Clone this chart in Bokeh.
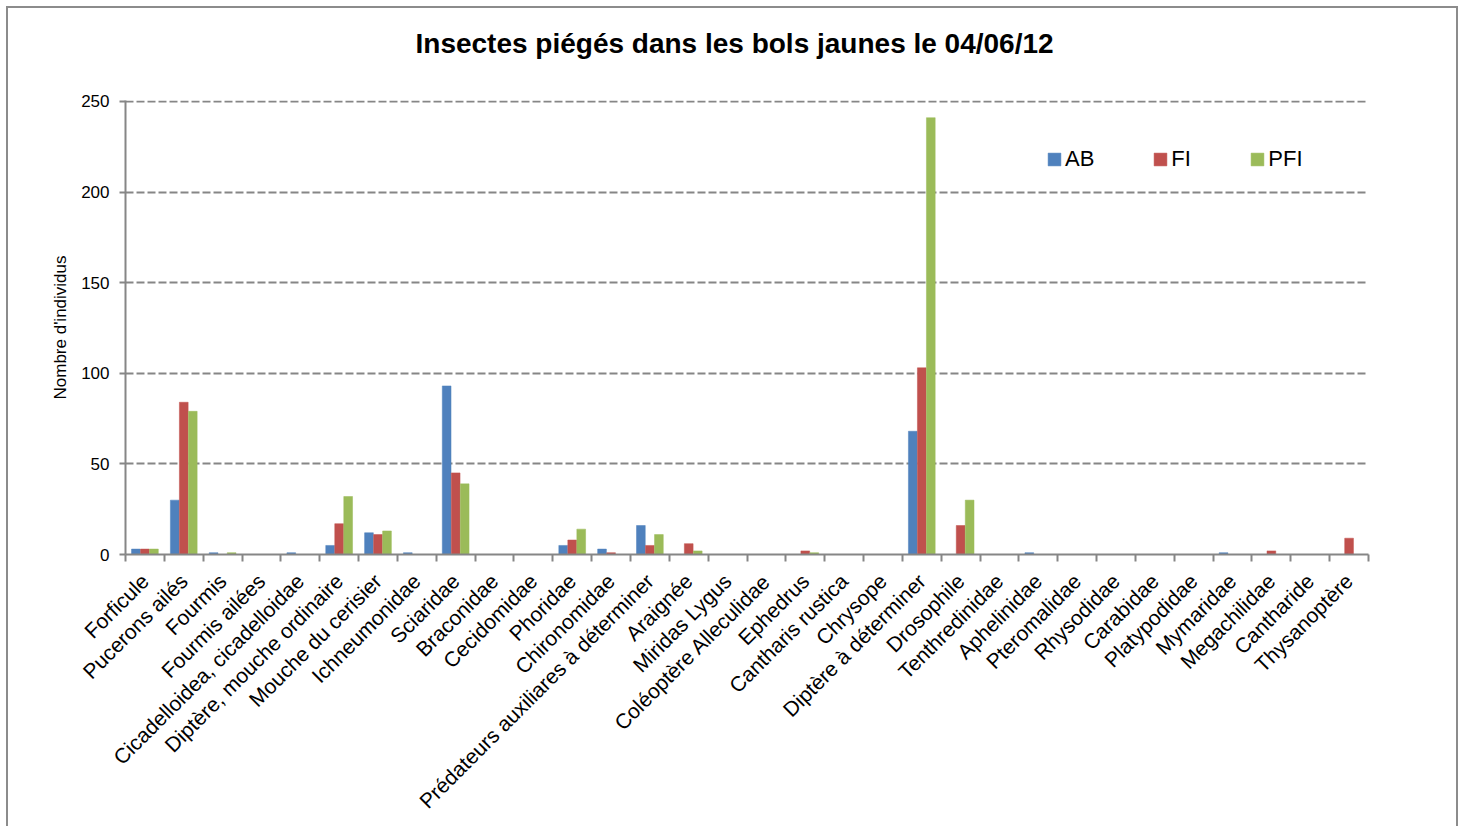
import math
from bokeh.plotting import figure
from bokeh.models import (Range1d, LinearAxis, FixedTicker, CustomJSTickFormatter,
                          Legend, LegendItem, ColumnDataSource, Grid, Title)
from bokeh.transform import dodge
from bokeh.embed import file_html
from bokeh.resources import INLINE

categories = ["Forficule", "Pucerons ailés", "Fourmis", "Fourmis ailées",
              "Cicadelloidea, cicadelloidae", "Diptère, mouche ordinaire",
              "Mouche du cerisier", "Ichneumonidae", "Sciaridae", "Braconidae",
              "Cecidomidae", "Phoridae", "Chironomidae",
              "Prédateurs auxiliares à déterminer", "Araignée", "Miridas Lygus",
              "Coléoptère Alleculidae", "Ephedrus", "Cantharis rustica", "Chrysope",
              "Diptère à déterminer", "Drosophile", "Tenthredinidae", "Aphelinidae",
              "Pteromalidae", "Rhysodidae", "Carabidae", "Platypodidae", "Mymaridae",
              "Megachilidae", "Cantharide", "Thysanoptère"]
AB = [3, 30, 1, 0, 1, 5, 12, 1, 93, 0, 0, 5, 3, 16, 0, 0, 0, 0, 0, 0,
      68, 0, 0, 1, 0, 0, 0, 0, 1, 0, 0, 0]
FI = [3, 84, 0, 0, 0, 17, 11, 0, 45, 0, 0, 8, 1, 5, 6, 0, 0, 2, 0, 0,
      103, 16, 0, 0, 0, 0, 0, 0, 0, 2, 0, 9]
PFI = [3, 79, 1, 0, 0, 32, 13, 0, 39, 0, 0, 14, 0, 11, 2, 0, 0, 1, 0, 0,
       241, 30, 0, 0, 0, 0, 0, 0, 0, 0, 0, 0]
series_names = ["AB", "FI", "PFI"]
series_colors = ["#4F81BD", "#C0504D", "#9BBB59"]
y_ticks = [0, 50, 100, 150, 200, 250]
title_text = "Insectes piégés dans les bols jaunes le 04/06/12"
y_label = "Nombre d'individus"

n = len(categories)
source = ColumnDataSource(dict(pos=[i + 0.5 for i in range(n)], AB=AB, FI=FI, PFI=PFI))

FONT = "Liberation Sans"
GRAY = "#868686"

# canvas starts at page (8, 8) because of the margin + border below
p = figure(width=1452, height=820, x_range=Range1d(0, n), y_range=Range1d(0, 250.5),
           output_backend="svg", toolbar_location=None,
           x_axis_location=None, y_axis_location=None,
           min_border_left=117, min_border_right=92, min_border_top=92,
           min_border_bottom=274)
p.center = [r for r in p.center if not isinstance(r, Grid)]
p.outline_line_color = None
p.background_fill_color = "white"
p.border_fill_color = "white"
p.styles = {"border": "2px solid #8c8c8c", "border-bottom": "none",
            "margin": "6px 0 0 6px"}

# main title (outermost panel)
p.title.text = title_text
p.title.align = "left"
p.title.offset = 290
p.title.standoff = 0
p.title.text_font = FONT
p.title.text_font_size = "28px"
p.title.text_font_style = "bold"
p.title.text_color = "black"

# small spacer panel between the frame and the title
spacer = Title(text=" ", text_font_size="1px", standoff=39)
p.add_layout(spacer, "above")

# y axis
yaxis = LinearAxis(ticker=FixedTicker(ticks=y_ticks, minor_ticks=[]))
yaxis.axis_line_color = GRAY
yaxis.axis_line_width = 2
yaxis.major_tick_line_color = GRAY
yaxis.major_tick_line_width = 2
yaxis.major_tick_in = 0
yaxis.major_tick_out = 6
yaxis.minor_tick_line_color = None
yaxis.major_label_text_font = FONT
yaxis.major_label_text_font_size = "17px"
yaxis.major_label_text_color = "black"
yaxis.major_label_standoff = 10
yaxis.axis_label = y_label
yaxis.axis_label_text_font = FONT
yaxis.axis_label_text_font_size = "17px"
yaxis.axis_label_text_font_style = "normal"
yaxis.axis_label_text_color = "black"
yaxis.axis_label_standoff = 8
p.add_layout(yaxis, "left")

# x axis: labels at category centres, ticks at boundaries
xaxis = LinearAxis(ticker=FixedTicker(ticks=[i + 0.5 for i in range(n)],
                                      minor_ticks=list(range(n + 1))))
xaxis.formatter = CustomJSTickFormatter(args=dict(names=categories),
                                        code="return names[Math.floor(tick)];")
xaxis.axis_line_color = GRAY
xaxis.axis_line_width = 2
xaxis.major_tick_line_color = None
xaxis.minor_tick_line_color = GRAY
xaxis.minor_tick_line_width = 2
xaxis.minor_tick_in = 0
xaxis.minor_tick_out = 7
xaxis.major_tick_in = 0
xaxis.major_tick_out = 0
xaxis.major_label_orientation = math.pi / 4
xaxis.major_label_text_font = FONT
xaxis.major_label_text_font_size = "21px"
xaxis.major_label_text_color = "black"
xaxis.major_label_standoff = 16
p.add_layout(xaxis, "below")

grid = Grid(dimension=1, ticker=yaxis.ticker)
grid.grid_line_color = GRAY
grid.grid_line_width = 2
grid.grid_line_dash = "8 3"
p.add_layout(grid)

offsets = [-0.232, 0.0, 0.232]
renderers = []
for name, color, off in zip(series_names, series_colors, offsets):
    r = p.vbar(x=dodge("pos", off), top=name, width=0.225, bottom=0, source=source,
               fill_color=color, line_color=color, line_width=0.5)
    renderers.append(r)

legend = Legend(items=[LegendItem(label=nm, renderers=[r]) for nm, r in zip(series_names, renderers)],
                orientation="horizontal", location=(921, 382),
                border_line_color=None, background_fill_alpha=0,
                glyph_width=16, glyph_height=16, label_standoff=3, spacing=58,
                label_text_font=FONT, label_text_font_size="22px",
                label_text_color="black", padding=0, margin=0)
p.add_layout(legend)

open("out.html", "w").write(file_html(p, INLINE))
